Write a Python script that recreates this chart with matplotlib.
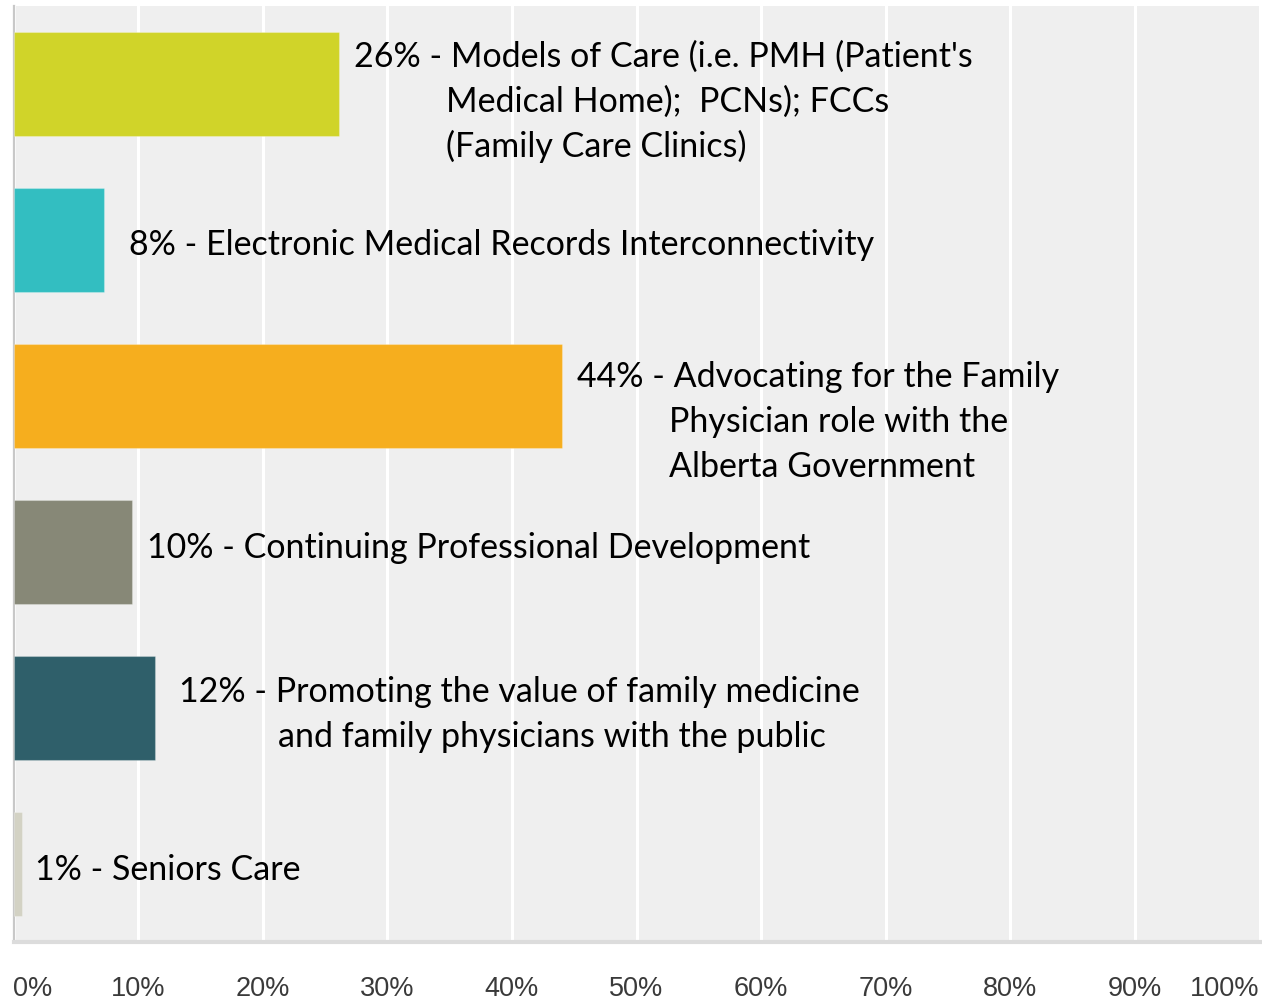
import matplotlib
matplotlib.use("Agg")
import matplotlib.pyplot as plt
from matplotlib.transforms import IdentityTransform

# ---------------- data ----------------
categories = [
    "Models of Care (i.e. PMH (Patient's\nMedical Home);  PCNs); FCCs\n(Family Care Clinics)",
    "Electronic Medical Records Interconnectivity",
    "Advocating for the Family\nPhysician role with the\nAlberta Government",
    "Continuing Professional Development",
    "Promoting the value of family medicine\nand family physicians with the public",
    "Seniors Care",
]
percent_labels = ["26%", "8%", "44%", "10%", "12%", "1%"]
values = [26.1, 7.3, 44.0, 9.5, 11.35, 0.7]
tick_values = [0, 10, 20, 30, 40, 50, 60, 70, 80, 90, 100]
tick_labels = ["0%", "10%", "20%", "30%", "40%", "50%", "60%", "70%", "80%", "90%", "100%"]

# ---------------- style / layout ----------------
bar_colors = ["#D0D429", "#33BEC1", "#F6AE1E", "#878877", "#2F5F6A", "#D3D2C4"]
label_dx = [15, 25, 15, 15, 24, 13]        # px gap from bar end to label
label_dy = [-18, 14, -10, 5, -7, 15]       # px baseline offset (down) from bar centre
extra_indent = [-5, 0, -4, 0, 2, 0]        # px indent correction for wrapped lines
line_step = 45                              # px between wrapped lines
label_font = dict(family="Lato", size=24.5)

W, H = 1262, 1004
fig = plt.figure(figsize=(W / 100, H / 100), dpi=100)
fig.patch.set_facecolor("white")
left_px, right_px, top_px, bottom_px = 13.5, 1259.5, 7, 943
ax = fig.add_axes([left_px / W, 1 - bottom_px / H,
                   (right_px - left_px) / W, (bottom_px - top_px) / H])
ax.set_facecolor("#EFEFEF")

ypos = list(range(len(values)))
ax.barh(ypos, values, height=0.667, color=bar_colors, zorder=3,
        edgecolor="#FFFFFF40", linewidth=0.8)
ax.set_xlim(0, 100)
ax.set_ylim(len(values) - 0.5, -0.5)

ax.set_xticks(tick_values)
ax.set_xticklabels(tick_labels, fontfamily="Liberation Sans", fontsize=19.5, color="#3A3A3A")
xt = ax.get_xticklabels()
xt[0].set_horizontalalignment("left")
xt[-1].set_horizontalalignment("right")
ax.tick_params(axis="x", length=0, pad=24)
ax.set_yticks([])
ax.grid(axis="x", color="white", linewidth=2.2, zorder=1)
ax.set_axisbelow(True)

for s in ["top", "right"]:
    ax.spines[s].set_visible(False)
ax.spines["left"].set_color("#C8C8C8")
ax.spines["left"].set_linewidth(1.6)
ax.spines["bottom"].set_color("#DCDCDC")
ax.spines["bottom"].set_linewidth(3)

fig.canvas.draw()
renderer = fig.canvas.get_renderer()


def text_width(s):
    t = fig.text(0, 0, s, fontfamily=label_font["family"], fontsize=label_font["size"])
    w = t.get_window_extent(renderer).width
    t.remove()
    return w


for i, (v, pct, cat) in enumerate(zip(values, percent_labels, categories)):
    x_end, y_c = ax.transData.transform((v, i))
    x0 = x_end + label_dx[i]
    y0 = y_c - label_dy[i]
    lines = cat.split("\n")
    prefix = pct + " - "
    fig.text(x0, y0, prefix + lines[0], transform=IdentityTransform(),
             fontfamily=label_font["family"], fontsize=label_font["size"],
             color="black", va="baseline", ha="left", zorder=5)
    indent = text_width(prefix + "x") - text_width("x") + extra_indent[i]
    for k, ln in enumerate(lines[1:], start=1):
        fig.text(x0 + indent, y0 - k * line_step, ln, transform=IdentityTransform(),
                 fontfamily=label_font["family"], fontsize=label_font["size"],
                 color="black", va="baseline", ha="left", zorder=5)

fig.savefig("out.png", dpi=100)
